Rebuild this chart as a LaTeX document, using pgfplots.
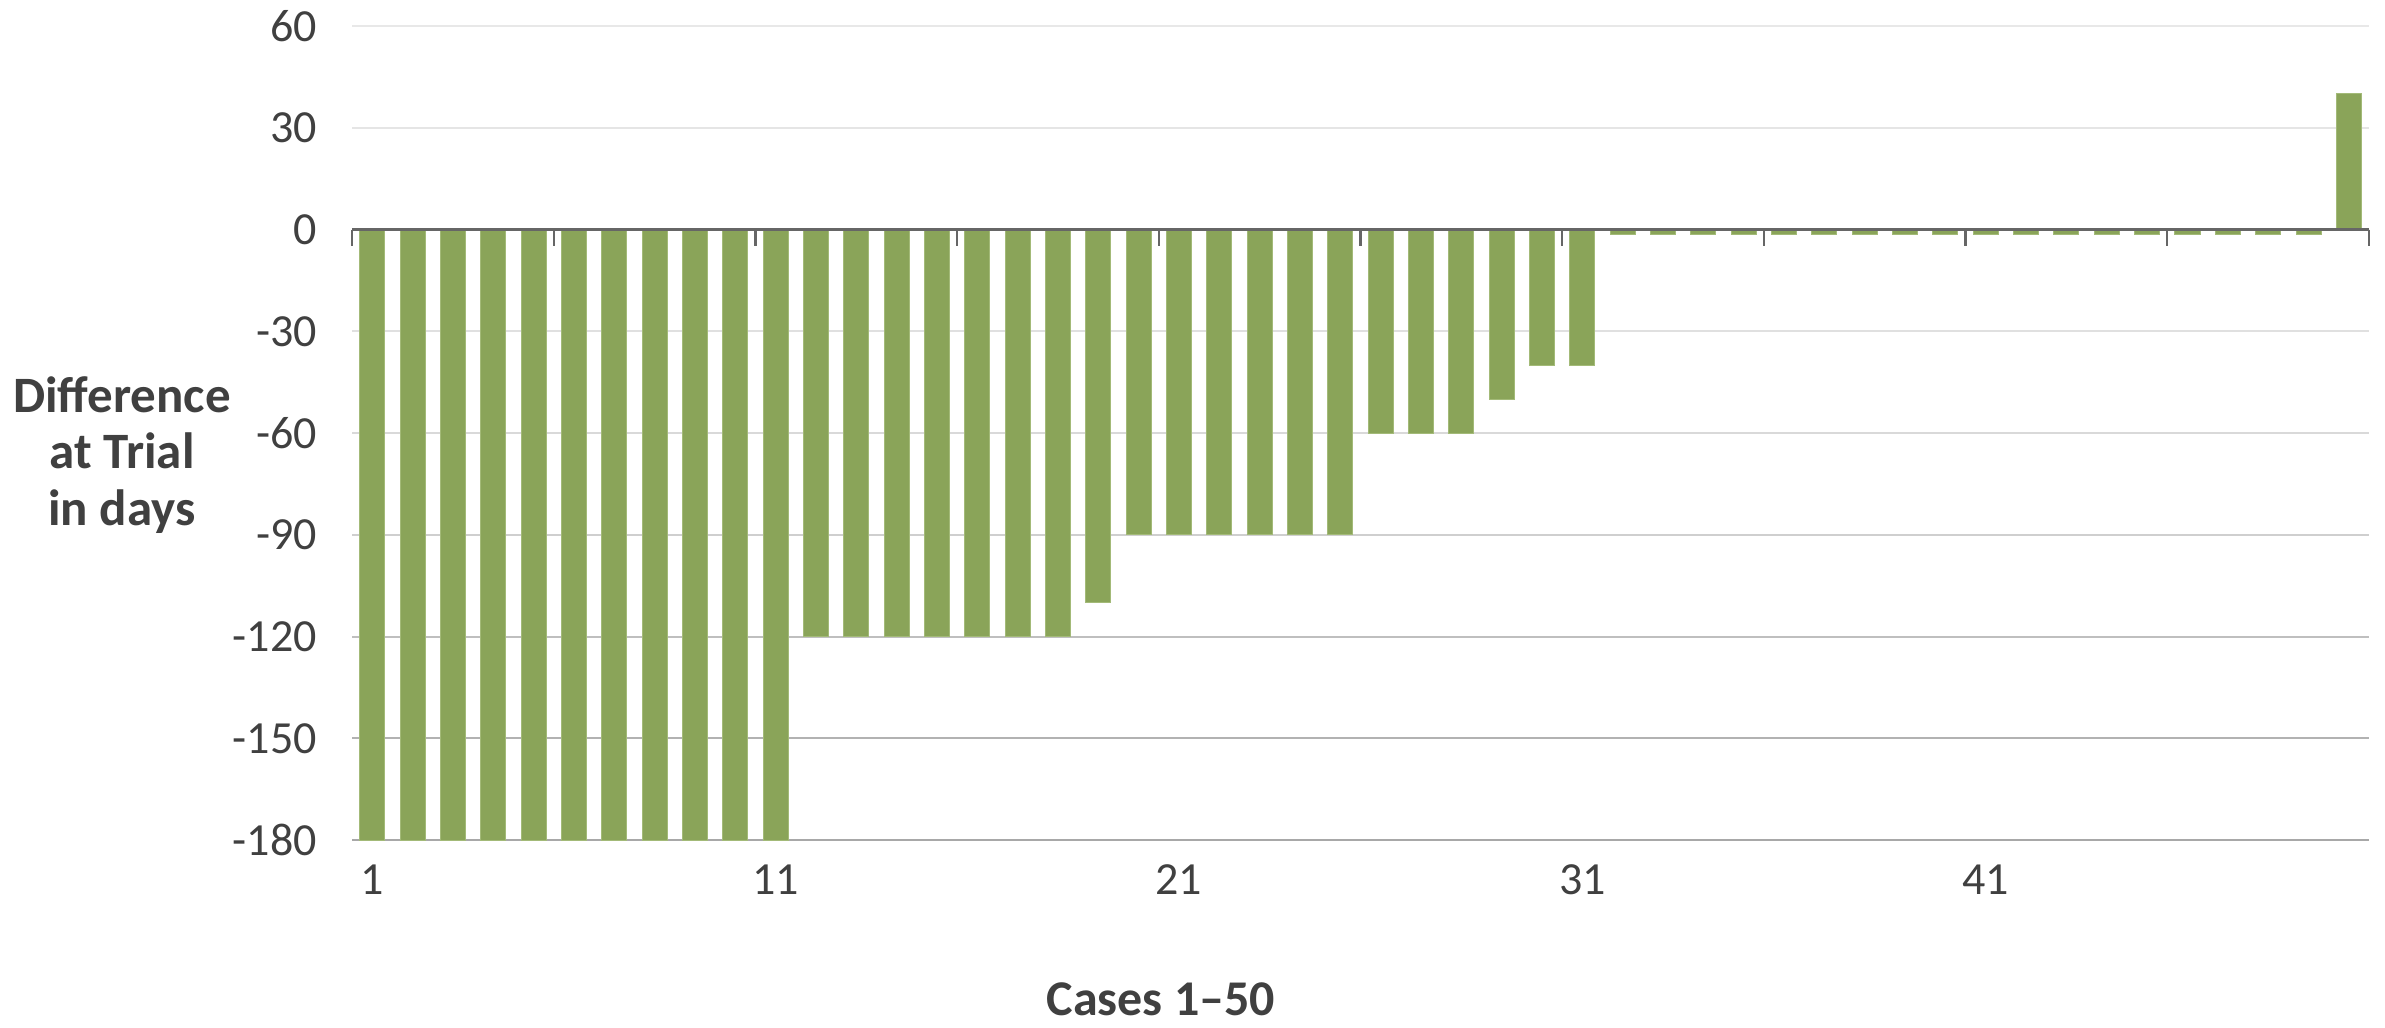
\documentclass[border=0pt]{standalone}
\usepackage{pgfplots}
\usepackage{pgfplotstable}
\pgfplotsset{compat=1.18}
\usepackage{fontspec}
\setmainfont{Carlito}
\definecolor{barcol}{HTML}{8AA459}
\definecolor{baredge}{HTML}{A3BA78}
\definecolor{txt}{HTML}{404040}
\definecolor{axcol}{HTML}{666666}

\pgfplotstableread{
x y
1 -180
2 -180
3 -180
4 -180
5 -180
6 -180
7 -180
8 -180
9 -180
10 -180
11 -180
12 -120
13 -120
14 -120
15 -120
16 -120
17 -120
18 -120
19 -110
20 -90
21 -90
22 -90
23 -90
24 -90
25 -90
26 -60
27 -60
28 -60
29 -50
30 -40
31 -40
32 -1.5
33 -1.5
34 -1.5
35 -1.5
36 -1.5
37 -1.5
38 -1.5
39 -1.5
40 -1.5
41 -1.5
42 -1.5
43 -1.5
44 -1.5
45 -1.5
46 -1.5
47 -1.5
48 -1.5
49 -1.5
50 40
}\datatable

\begin{document}
\begin{tikzpicture}
\begin{axis}[
  set layers=standard,
  scale only axis,
  width=605.1pt, height=244.2pt,
  xmin=0.5, xmax=50.5, ymin=-180, ymax=60,
  axis line style={draw=none},
  major tick length=0pt,
  ybar,
  bar width=0.62,
  xtick={1,11,21,31,41},
  xticklabels={1,11,21,31,41},
  ytick={-180,-150,-120,-90,-60,-30,0,30,60},
  yticklabels={-180,-150,-120,-90,-60,-30,0,30,60},
  tick label style={font=\fontsize{13.8}{16}\selectfont, text=txt},
  xticklabel style={anchor=north, yshift=-4pt},
  yticklabel style={anchor=east, xshift=-7pt},
  xlabel={Cases 1–50},
  xlabel style={font=\fontsize{15}{17}\selectfont\bfseries, text=txt,
    at={(axis description cs:0.401,-0.196)}, anchor=center},
  ylabel={Difference\\at Trial\\in days},
  ylabel style={font=\fontsize{15.3}{17}\selectfont\bfseries, text=txt,
    rotate=-90, align=center,
    at={(axis description cs:-0.114,0.473)}, anchor=center},
]
\begin{pgfonlayer}{axis grid}
\draw[color=black!9, line width=0.6pt] (axis cs:0.5,60) -- (axis cs:50.5,60);
\draw[color=black!10, line width=0.6pt] (axis cs:0.5,30) -- (axis cs:50.5,30);
\draw[color=black!12, line width=0.6pt] (axis cs:0.5,-30) -- (axis cs:50.5,-30);
\draw[color=black!15, line width=0.6pt] (axis cs:0.5,-60) -- (axis cs:50.5,-60);
\draw[color=black!19, line width=0.6pt] (axis cs:0.5,-90) -- (axis cs:50.5,-90);
\draw[color=black!25, line width=0.6pt] (axis cs:0.5,-120) -- (axis cs:50.5,-120);
\draw[color=black!30, line width=0.6pt] (axis cs:0.5,-150) -- (axis cs:50.5,-150);
\draw[color=black!34, line width=0.6pt] (axis cs:0.5,-180) -- (axis cs:50.5,-180);
\end{pgfonlayer}
\addplot[fill=barcol, draw=baredge, line width=0.3pt] table[x=x, y=y] {\datatable};
\begin{pgfonlayer}{axis foreground}
\draw[color=axcol, line width=0.9pt] (axis cs:0.5,0) -- (axis cs:50.5,0);
\pgfplotsinvokeforeach{0.5,5.5,10.5,15.5,20.5,25.5,30.5,35.5,40.5,45.5,50.5}{
  \draw[color=axcol, line width=0.7pt] (axis cs:#1,0) -- ++(0pt,-4.8pt);
}
\end{pgfonlayer}
\end{axis}
\pgfresetboundingbox
\path ([shift={(-105.6pt,-56.1pt)}]current axis.south west) rectangle ([shift={(4.8pt,7.8pt)}]current axis.north east);
\end{tikzpicture}
\end{document}
